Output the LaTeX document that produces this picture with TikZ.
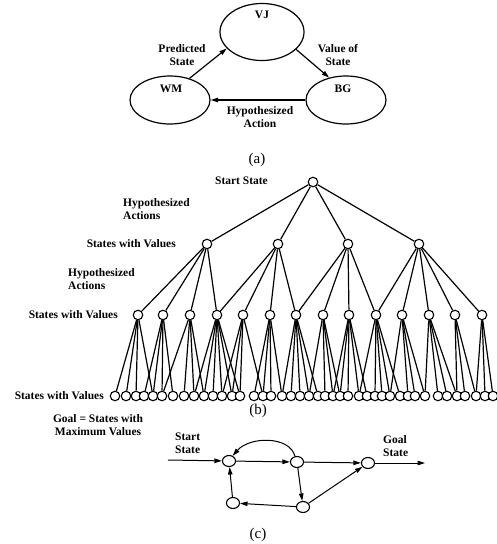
\documentclass[tikz,border=0pt]{standalone}
\usepackage{fontspec}
\setmainfont{Liberation Serif}
\usetikzlibrary{arrows.meta,shapes.geometric}
\pgfdeclarelayer{bg}
\pgfsetlayers{bg,main}
\begin{document}
\begin{tikzpicture}[x=1pt,y=-1pt,
  line width=1.2pt,
  lbl/.style={font=\fontsize{11.5}{12.5}\selectfont\bfseries, align=center, inner sep=0pt},
  lbll/.style={lbl, align=left},
  captext/.style={font=\fontsize{15}{15}\selectfont, inner sep=0pt},
  ell/.style={draw, ellipse, inner sep=0pt},
  tn/.style={draw, circle, fill=white, minimum size=9.5pt, inner sep=0pt, line width=1.1pt},
  cn/.style={draw, ellipse, fill=white, minimum width=13pt, minimum height=11pt, inner sep=0pt, line width=1.1pt},
  arr/.style={-{Triangle[length=7.5pt,width=4.5pt]}},
  edge/.style={line width=1.2pt},
]
\useasboundingbox (0,0) rectangle (496,544);

% ---------- (a) ----------
\node[ell, minimum width=80pt, minimum height=48pt] (WM) at (170,100) {};
\node[ell, minimum width=84pt, minimum height=57pt] (VJ) at (262,32) {};
\node[ell, minimum width=80pt, minimum height=48pt] (BG) at (346,100) {};
\node[lbl] (VJt) at (262,15) {VJ};
\node[lbl] (WMt) at (171,89) {WM};
\node[lbl] (BGt) at (343,89) {BG};
\draw[arr] (WM.48) -- (VJ.205);
\draw[arr] (VJ.-27) -- (BG.127);
\draw[arr] (BG.west) -- (WM.east);
\node[lbl] (pred) at (182,55) {Predicted\\State};
\node[lbl] (vos) at (338,55) {Value of\\State};
\node[lbl] (hyp) at (260,117) {Hypothesized\\Action};
\node[captext] (capa) at (257,160) {(a)};

% ---------- (b) ----------
\node[tn] (r) at (313,182) {};
\foreach \x [count=\i] in {207,278,348,419}
  \node[tn] (n\i) at (\x,244) {};
\foreach \x [count=\i] in {138,163,190,217,243,270,296,323,349,376,402,429,455,482}
  \node[tn] (m\i) at (\x,315) {};
\foreach \x [count=\i from 0] in {115,126,136,144,153,162,173,184,194,204,213,222,232,240,254,263,271,282,291,300,309,318,325,333,340,348,359,367,375,382,390,400,408,415,425,438,447,457,465,476,485,493}
  \node[tn] (l\i) at (\x,396) {};
\begin{pgfonlayer}{bg}
\begin{scope}[edge]
\foreach \i in {1,...,4} \draw[edge] (r) -- (n\i);
\foreach \p/\c in {1/1,1/2,1/3,1/4,2/4,2/5,2/6,2/7,3/7,3/8,3/9,3/10,4/10,4/11,4/12,4/13,4/14}
  \draw[edge] (n\p) -- (m\c);
\foreach \p/\c in {1/0,1/1,1/2,1/4,
  2/3,2/4,2/5,2/6,
  3/5,3/7,3/8,3/9,
  4/8,4/9,4/10,4/11,4/12,4/13,
  5/11,5/12,5/13,5/15,
  6/14,6/15,6/16,6/17,
  7/17,7/18,7/19,7/20,7/21,
  8/20,8/22,8/23,8/24,
  9/23,9/24,9/25,9/26,9/27,
  10/26,10/28,10/29,10/30,10/31,
  11/30,11/32,11/33,11/34,
  12/34,12/35,12/36,12/37,
  13/37,13/38,13/39,
  14/39,14/40,14/41}
  \draw[edge] (m\p) -- (l\c);
\end{scope}
\end{pgfonlayer}
\node[lbl, anchor=east] (ss) at (268,181) {Start State};
\node[lbll, anchor=west] (ha1) at (123,209) {Hypothesized\\Actions};
\node[lbl, anchor=east] (sv1) at (176,244) {States with Values};
\node[lbll, anchor=west] (ha2) at (68,279) {Hypothesized\\Actions};
\node[lbl, anchor=east] (sv2) at (118,315) {States with Values};
\node[lbl, anchor=east] (sv3) at (104,396) {States with Values};
\node[lbl] (goal) at (98,425) {Goal = States with\\Maximum Values};
\node[captext] (capb) at (258,411) {(b)};

% ---------- (c) ----------
\node[cn] (A) at (229,461) {};
\node[cn] (B) at (297,462) {};
\node[cn] (G) at (368,463) {};
\node[cn] (D) at (303,507) {};
\node[cn] (E) at (233,503) {};
\coordinate (S) at (168,460);
\coordinate (T) at (425,463);
\begin{scope}[line width=1pt]
\draw[arr] (S) -- (A);
\draw[arr] (A) -- (B);
\draw[arr] (B) -- (G);
\draw[arr] (B) -- (D);
\draw[arr] (D) -- (G);
\draw[arr] (D) -- (E);
\draw[arr] (E) -- (A);
\draw[arr] (G) -- (T);
\draw[arr] (B.110) .. controls (290,436) and (250,436) .. (A.55);
\end{scope}
\node[lbll, anchor=west] (st) at (175,443) {Start\\State};
\node[lbll, anchor=west] (gs) at (383,446) {Goal\\State};
\node[captext] (capc) at (258,535) {(c)};
\end{tikzpicture}
\end{document}
